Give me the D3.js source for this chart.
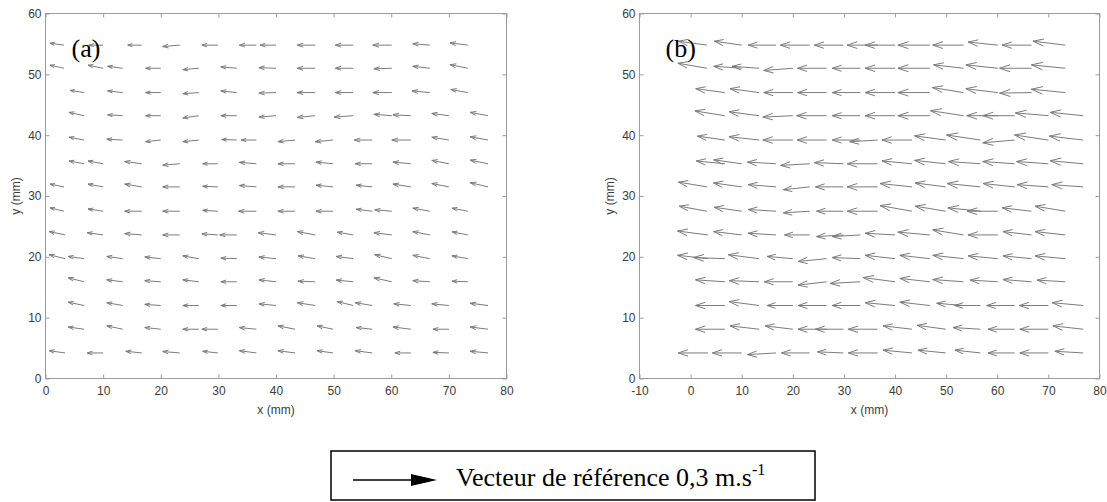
<!DOCTYPE html>
<html>
<head>
<meta charset="utf-8">
<script src="https://cdn.jsdelivr.net/npm/d3@7"></script>
<style>
	body { margin: 0; background: #fff; }
</style>
</head>
<body>
<svg id="fig" width="1107" height="502"></svg>
<script>
// PIV grid: row heights (mm) and base x of each vector (mm), same for both maps
const rowY = [54.8, 51.0, 47.0, 43.2, 39.2, 35.3, 31.5, 27.5, 23.6, 19.7, 15.9, 12.0, 8.1, 4.2]
const rowX = [
	[3.2, 10.0, 16.7, 23.3, 29.9, 36.6, 40.0, 46.8, 53.4, 60.1, 66.7, 73.3],
	[3.2, 10.0, 13.4, 20.0, 26.6, 33.2, 40.0, 46.8, 53.4, 60.1, 66.7, 73.3],
	[6.7, 13.4, 20.0, 26.6, 33.2, 40.0, 46.8, 53.4, 60.1, 66.7, 73.3],
	[6.7, 13.4, 20.0, 26.6, 33.2, 40.0, 46.8, 53.4, 60.1, 63.4, 70.0, 76.8],
	[6.7, 13.4, 20.0, 26.6, 33.2, 36.6, 43.3, 49.9, 56.7, 63.4, 70.0, 76.8],
	[6.7, 10.0, 16.7, 23.3, 29.9, 36.6, 43.3, 49.9, 56.7, 63.4, 70.0, 76.8],
	[3.2, 10.0, 16.7, 23.3, 29.9, 36.6, 43.3, 49.9, 56.7, 63.4, 70.0, 76.8],
	[3.2, 10.0, 16.7, 23.3, 29.9, 36.6, 43.3, 49.9, 56.7, 60.1, 66.7, 73.3],
	[3.4, 10.0, 16.7, 23.3, 29.9, 33.2, 40.0, 46.8, 53.4, 60.1, 66.7, 73.3],
	[3.4, 6.7, 13.4, 20.0, 26.6, 33.2, 40.0, 46.8, 53.4, 60.1, 66.7, 73.3],
	[6.7, 13.4, 20.0, 26.6, 33.2, 40.0, 46.8, 53.4, 60.1, 66.7, 73.3],
	[6.7, 13.4, 20.0, 26.6, 33.2, 40.0, 46.8, 53.4, 56.7, 63.4, 70.0, 76.8],
	[6.7, 13.4, 20.0, 26.6, 29.9, 36.6, 43.3, 49.9, 56.7, 63.4, 70.0, 76.8],
	[3.4, 10.0, 16.7, 23.3, 29.9, 36.6, 43.3, 49.9, 56.7, 63.4, 70.0, 76.8]
]

// map (a) velocities, mm/s
const uA = [
	[-50, -50, -50, -61, -57, -61, -57, -64, -64, -68, -61, -64],
	[-50, -54, -54, -54, -57, -57, -61, -64, -64, -64, -61, -64],
	[-50, -54, -54, -57, -57, -61, -64, -64, -68, -64, -61],
	[-54, -54, -54, -57, -57, -61, -64, -68, -64, -64, -61, -64],
	[-54, -57, -54, -57, -54, -54, -61, -64, -64, -68, -61, -64],
	[-54, -54, -61, -61, -54, -61, -61, -61, -61, -64, -61, -64],
	[-50, -54, -61, -61, -54, -61, -61, -61, -57, -64, -61, -64],
	[-50, -54, -61, -61, -54, -64, -61, -61, -57, -61, -61, -57],
	[-57, -57, -61, -61, -57, -61, -64, -64, -57, -64, -61, -57],
	[-57, -57, -57, -57, -57, -57, -61, -61, -61, -61, -61, -57],
	[-57, -57, -57, -57, -57, -61, -61, -61, -64, -61, -57],
	[-57, -57, -57, -57, -57, -61, -64, -57, -61, -61, -61, -64],
	[-57, -57, -57, -57, -57, -61, -61, -57, -57, -64, -57, -64],
	[-57, -57, -57, -61, -54, -61, -61, -57, -61, -57, -57, -64]
]
const vA = [
	[7, 0, 0, -5, 0, 0, 0, 0, 0, 0, 5, 8],
	[11, 11, 7, 0, -5, 5, 2, 0, 0, -2, 7, 13],
	[8, 6, 0, -4, 6, -2, 0, 0, 0, 6, 11],
	[12, 3, 0, -8, 0, -5, -6, -5, 5, 3, 8, 12],
	[10, 3, -6, -6, 2, 0, -6, -6, 0, 0, 10, 12],
	[10, 10, 8, -5, 0, 5, 0, 6, 0, 6, 12, 13],
	[10, 10, 10, 0, 2, 5, 0, 6, 6, 10, 12, 15],
	[12, 8, 0, 0, 3, 0, 0, 0, 7, 5, 11, 11],
	[12, 8, 5, 0, 4, 0, 8, 12, 10, 8, 12, 11],
	[14, 8, 8, 6, 10, 2, 6, 10, 8, 14, 12, 10],
	[14, 7, 4, 7, 0, 7, 2, 6, 14, 4, 2],
	[12, 10, 4, 0, 0, 6, 10, 14, 10, 6, 6, 8],
	[8, 12, 6, 0, 0, 6, 12, 12, 6, 8, 0, 8],
	[8, 0, 6, 5, 6, 8, 8, 8, 8, 0, 2, 6]
]

// map (b) velocities, mm/s
const uB = [
	[-102, -98, -99, -105, -104, -109, -107, -114, -110, -106, -105, -115],
	[-104, -100, -96, -104, -104, -100, -107, -114, -107, -114, -114, -121],
	[-104, -104, -104, -104, -100, -107, -114, -111, -114, -114, -121],
	[-107, -107, -107, -107, -100, -107, -114, -118, -111, -114, -118, -118],
	[-98, -107, -107, -105, -100, -100, -107, -111, -121, -114, -121, -121],
	[-102, -100, -102, -104, -104, -109, -107, -111, -114, -114, -114, -118],
	[-102, -101, -99, -94, -100, -109, -114, -109, -119, -113, -112, -112],
	[-99, -98, -99, -94, -96, -109, -114, -109, -116, -110, -105, -108],
	[-109, -101, -99, -90, -96, -100, -107, -114, -110, -106, -102, -108],
	[-109, -112, -110, -92, -102, -101, -107, -107, -110, -106, -102, -108],
	[-105, -107, -102, -102, -108, -114, -107, -110, -99, -102, -101],
	[-105, -107, -92, -102, -101, -107, -107, -96, -92, -100, -104, -111],
	[-105, -104, -99, -102, -100, -105, -103, -102, -98, -95, -102, -108],
	[-106, -105, -102, -101, -93, -105, -103, -99, -91, -95, -102, -101]
]
const vB = [
	[14, 14, 0, 0, 0, 0, 0, 0, 0, 11, 0, 14],
	[18, 7, 7, -8, 0, 0, 0, 0, 12, 12, 0, 12],
	[14, 14, 0, 0, 0, 0, 0, 18, 14, -2, 12],
	[17, 14, -5, 0, 0, 0, 0, 18, 0, 0, 10, 12],
	[14, 12, 0, 0, 0, -6, 0, 15, 18, -10, 18, 14],
	[10, 14, 6, -6, 4, 0, 10, 12, 8, 8, 8, 11],
	[17, 14, 8, -10, 0, 0, 12, 14, 12, 12, 8, 8],
	[18, 14, 6, -6, 0, 0, 20, 18, 12, 0, 12, 18],
	[14, 12, 6, 0, -6, -6, 6, 10, 18, 0, 12, 12],
	[12, 4, 14, 8, -10, 4, 12, 12, 12, 10, 10, 10],
	[7, 4, 0, -12, -6, 15, 12, 8, 6, 8, 6],
	[0, 14, 0, 0, 0, 10, 12, 8, 0, 0, 0, 10],
	[0, 12, 12, 0, 0, 0, 12, 14, 6, 0, 0, 12],
	[0, 0, -6, 0, 4, 0, 10, 10, 10, 0, 0, 6]
]

const xTicksA = [0, 10, 20, 30, 40, 50, 60, 70, 80]
const xTicksB = [-10, 0, 10, 20, 30, 40, 50, 60, 70, 80]
const yTicks = [0, 10, 20, 30, 40, 50, 60]
const refSpeed = 300 // mm/s, i.e. 0,3 m/s

// Margins, canvas
const svg = d3.select("#fig")
const top_ = 13.5, bottom_ = 378.5
const arrowScale = 0.28 // px per mm/s
const frameColor = "#9c9c9c", labelColor = "#3c3c3c", vecColor = "#7c7c7c"
const sans = "Liberation Sans, Arial, sans-serif"
const serif = "Liberation Serif, Times New Roman, serif"

function drawPanel(left, right, xDomain, xTicks, U, V, tag) {
	const x = d3.scaleLinear().domain(xDomain).range([left, right])
	const y = d3.scaleLinear().domain([0, 60]).range([bottom_, top_])
	const g = svg.append("g")

	// axes, ticks inside on all four sides
	const axB = g.append("g").attr("transform", `translate(0, ${bottom_})`)
		.call(d3.axisBottom(x).tickValues(xTicks).tickSizeInner(-4).tickSizeOuter(0)
			.tickPadding(8).tickFormat(d => String(d)))
	const axT = g.append("g").attr("transform", `translate(0, ${top_})`)
		.call(d3.axisTop(x).tickValues(xTicks).tickSizeInner(-4).tickSizeOuter(0).tickFormat(""))
	const axL = g.append("g").attr("transform", `translate(${left}, 0)`)
		.call(d3.axisLeft(y).tickValues(yTicks).tickSizeInner(-4).tickSizeOuter(0)
			.tickPadding(4).tickFormat(d => String(d)))
	const axR = g.append("g").attr("transform", `translate(${right}, 0)`)
		.call(d3.axisRight(y).tickValues(yTicks).tickSizeInner(-4).tickSizeOuter(0).tickFormat(""))

	for (const ax of [axB, axT, axL, axR]) {
		ax.select(".domain").remove()
		ax.selectAll("line").attr("stroke", frameColor)
		ax.selectAll("text").attr("fill", labelColor)
			.style("font-size", "12px").style("font-family", sans)
	}

	g.append("rect")
		.attr("x", left).attr("y", top_)
		.attr("width", right - left).attr("height", bottom_ - top_)
		.attr("fill", "none").attr("stroke", frameColor)

	// Axes Labels
	g.append("text")
		.attr("x", (left + right) / 2).attr("y", 414)
		.attr("text-anchor", "middle")
		.style("font-size", "12px").style("font-family", sans)
		.attr("fill", labelColor).text("x (mm)")
	g.append("text")
		.attr("transform", `translate(${left - 26}, ${(top_ + bottom_) / 2}) rotate(-90)`)
		.attr("text-anchor", "middle")
		.style("font-size", "12px").style("font-family", sans)
		.attr("fill", labelColor).text("y (mm)")

	// vectors (quiver style head)
	const vecs = []
	rowY.forEach((yy, i) => {
		rowX[i].forEach((xx, j) => {
			vecs.push({ x: xx, y: yy, u: U[i][j], v: V[i][j] })
		})
	})
	const alpha = 0.33, beta = 0.33
	g.selectAll(".vec").data(vecs).enter().append("path")
		.attr("class", "vec")
		.attr("fill", "none")
		.attr("stroke", vecColor)
		.attr("stroke-width", 1)
		.attr("d", d => {
			const x0 = x(d.x), y0 = y(d.y)
			const du = d.u * arrowScale, dv = -d.v * arrowScale
			const x1 = x0 + du, y1 = y0 + dv
			const h1x = x1 - alpha * (du + beta * dv), h1y = y1 - alpha * (dv - beta * du)
			const h2x = x1 - alpha * (du - beta * dv), h2y = y1 - alpha * (dv + beta * du)
			return `M${x0},${y0}L${x1},${y1}M${h1x},${h1y}L${x1},${y1}L${h2x},${h2y}`
		})

	// panel tag
	g.append("text")
		.attr("x", left + 26).attr("y", 57)
		.style("font-family", serif).style("font-size", "26px")
		.attr("fill", "#000")
		.text(tag)
}

drawPanel(45.5, 506.5, [0, 80], xTicksA, uA, vA, "(a)")
drawPanel(639.5, 1099.5, [-10, 80], xTicksB, uB, vB, "(b)")

// reference vector legend
const leg = svg.append("g")
leg.append("rect")
	.attr("x", 331).attr("y", 451)
	.attr("width", 484).attr("height", 49)
	.attr("fill", "none").attr("stroke", "#000").attr("stroke-width", 1.5)
const refLen = refSpeed * arrowScale
leg.append("line")
	.attr("x1", 353).attr("x2", 353 + refLen - 24)
	.attr("y1", 480).attr("y2", 480)
	.attr("stroke", "#000").attr("stroke-width", 1.7)
leg.append("path")
	.attr("d", `M${353 + refLen - 26},474 L${353 + refLen},480 L${353 + refLen - 26},486 Z`)
	.attr("fill", "#000")
const lt = leg.append("text")
	.attr("x", 456).attr("y", 486)
	.style("font-family", serif).style("font-size", "26px")
	.attr("fill", "#000")
lt.append("tspan").text("Vecteur de référence 0,3 m.s")
lt.append("tspan").attr("dy", -11).style("font-size", "16px").text("-1")
</script>
</body>
</html>
